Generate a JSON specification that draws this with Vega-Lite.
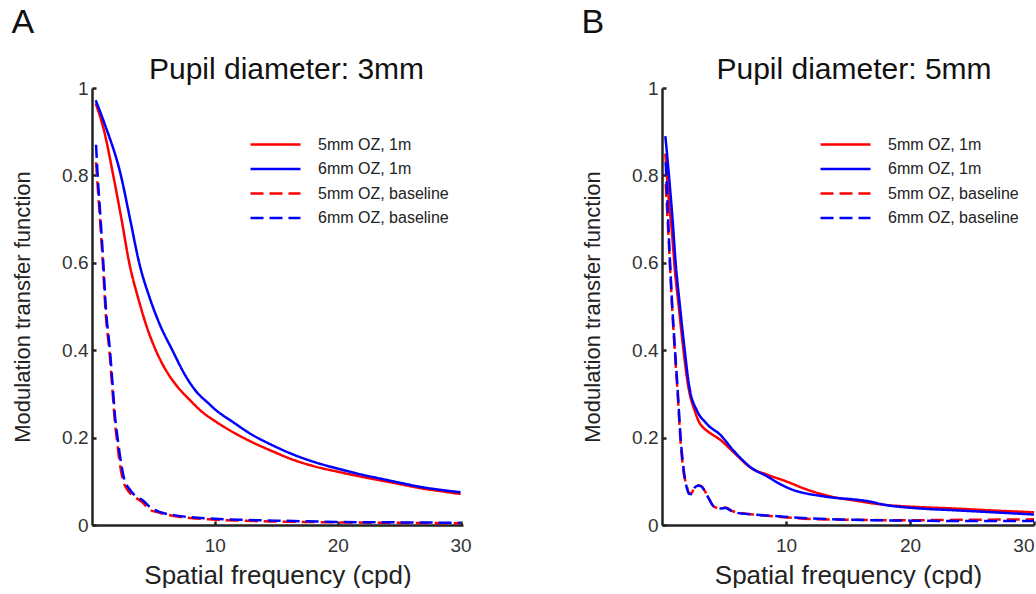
{
  "$schema": "https://vega.github.io/schema/vega-lite/v6.json",
  "background": "white",
  "padding": {"left": 11, "top": 6, "right": 0, "bottom": 0},
  "config": {
    "view": {"stroke": null},
    "font": "Liberation Sans",
    "axis": {
      "grid": false,
      "domainColor": "#222222",
      "domainWidth": 2.5,
      "tickColor": "#222222",
      "tickWidth": 2.5,
      "tickSize": -4,
      "labelFont": "Liberation Sans",
      "labelFontSize": 19,
      "labelColor": "#333333",
      "titleFont": "Liberation Sans",
      "titleFontWeight": "normal",
      "titleColor": "#222222"
    },
    "legend": {
      "orient": "none",
      "legendX": 172,
      "legendY": 45,
      "symbolType": "M-2.5,0H2.5",
      "symbolSize": 400,
      "symbolStrokeWidth": 2.5,
      "labelFont": "Liberation Sans",
      "labelFontSize": 16,
      "labelColor": "#222222",
      "labelOffset": 31,
      "rowPadding": 4.5,
      "padding": 0
    },
    "title": {"font": "Liberation Sans", "fontWeight": "normal", "color": "#111111"}
  },
  "datasets": {
    "a": [
      {"f": 0.3, "m": 0.965, "s": "5mm OZ, 1m"},
      {"f": 1.0, "m": 0.9, "s": "5mm OZ, 1m"},
      {"f": 1.73, "m": 0.8, "s": "5mm OZ, 1m"},
      {"f": 2.4, "m": 0.7, "s": "5mm OZ, 1m"},
      {"f": 3.03, "m": 0.6, "s": "5mm OZ, 1m"},
      {"f": 3.78, "m": 0.517, "s": "5mm OZ, 1m"},
      {"f": 4.5, "m": 0.45, "s": "5mm OZ, 1m"},
      {"f": 5.19, "m": 0.4, "s": "5mm OZ, 1m"},
      {"f": 6.0, "m": 0.355, "s": "5mm OZ, 1m"},
      {"f": 6.8, "m": 0.322, "s": "5mm OZ, 1m"},
      {"f": 8.0, "m": 0.285, "s": "5mm OZ, 1m"},
      {"f": 9.0, "m": 0.258, "s": "5mm OZ, 1m"},
      {"f": 10.0, "m": 0.238, "s": "5mm OZ, 1m"},
      {"f": 11.5, "m": 0.212, "s": "5mm OZ, 1m"},
      {"f": 13.0, "m": 0.19, "s": "5mm OZ, 1m"},
      {"f": 14.5, "m": 0.171, "s": "5mm OZ, 1m"},
      {"f": 16.5, "m": 0.148, "s": "5mm OZ, 1m"},
      {"f": 18.0, "m": 0.135, "s": "5mm OZ, 1m"},
      {"f": 20.0, "m": 0.122, "s": "5mm OZ, 1m"},
      {"f": 22.0, "m": 0.11, "s": "5mm OZ, 1m"},
      {"f": 23.5, "m": 0.102, "s": "5mm OZ, 1m"},
      {"f": 25.0, "m": 0.094, "s": "5mm OZ, 1m"},
      {"f": 27.0, "m": 0.083, "s": "5mm OZ, 1m"},
      {"f": 28.5, "m": 0.077, "s": "5mm OZ, 1m"},
      {"f": 30.0, "m": 0.071, "s": "5mm OZ, 1m"},

      {"f": 0.3, "m": 0.972, "s": "6mm OZ, 1m"},
      {"f": 1.0, "m": 0.92, "s": "6mm OZ, 1m"},
      {"f": 2.35, "m": 0.8, "s": "6mm OZ, 1m"},
      {"f": 3.1, "m": 0.7, "s": "6mm OZ, 1m"},
      {"f": 3.84, "m": 0.6, "s": "6mm OZ, 1m"},
      {"f": 4.73, "m": 0.517, "s": "6mm OZ, 1m"},
      {"f": 5.5, "m": 0.46, "s": "6mm OZ, 1m"},
      {"f": 6.54, "m": 0.4, "s": "6mm OZ, 1m"},
      {"f": 7.6, "m": 0.342, "s": "6mm OZ, 1m"},
      {"f": 8.5, "m": 0.305, "s": "6mm OZ, 1m"},
      {"f": 9.5, "m": 0.278, "s": "6mm OZ, 1m"},
      {"f": 10.0, "m": 0.265, "s": "6mm OZ, 1m"},
      {"f": 11.5, "m": 0.235, "s": "6mm OZ, 1m"},
      {"f": 13.0, "m": 0.207, "s": "6mm OZ, 1m"},
      {"f": 14.5, "m": 0.185, "s": "6mm OZ, 1m"},
      {"f": 16.5, "m": 0.16, "s": "6mm OZ, 1m"},
      {"f": 18.0, "m": 0.145, "s": "6mm OZ, 1m"},
      {"f": 20.0, "m": 0.129, "s": "6mm OZ, 1m"},
      {"f": 22.0, "m": 0.115, "s": "6mm OZ, 1m"},
      {"f": 23.5, "m": 0.106, "s": "6mm OZ, 1m"},
      {"f": 25.0, "m": 0.097, "s": "6mm OZ, 1m"},
      {"f": 27.0, "m": 0.086, "s": "6mm OZ, 1m"},
      {"f": 28.5, "m": 0.08, "s": "6mm OZ, 1m"},
      {"f": 30.0, "m": 0.075, "s": "6mm OZ, 1m"},

      {"f": 0.33, "m": 0.83, "s": "5mm OZ, baseline"},
      {"f": 0.45, "m": 0.78, "s": "5mm OZ, baseline"},
      {"f": 0.7, "m": 0.68, "s": "5mm OZ, baseline"},
      {"f": 0.9, "m": 0.59, "s": "5mm OZ, baseline"},
      {"f": 1.1, "m": 0.49, "s": "5mm OZ, baseline"},
      {"f": 1.44, "m": 0.39, "s": "5mm OZ, baseline"},
      {"f": 1.66, "m": 0.31, "s": "5mm OZ, baseline"},
      {"f": 1.85, "m": 0.24, "s": "5mm OZ, baseline"},
      {"f": 2.05, "m": 0.19, "s": "5mm OZ, baseline"},
      {"f": 2.22, "m": 0.15, "s": "5mm OZ, baseline"},
      {"f": 2.5, "m": 0.105, "s": "5mm OZ, baseline"},
      {"f": 2.9, "m": 0.08, "s": "5mm OZ, baseline"},
      {"f": 3.6, "m": 0.062, "s": "5mm OZ, baseline"},
      {"f": 4.1, "m": 0.052, "s": "5mm OZ, baseline"},
      {"f": 4.7, "m": 0.035, "s": "5mm OZ, baseline"},
      {"f": 5.5, "m": 0.028, "s": "5mm OZ, baseline"},
      {"f": 6.8, "m": 0.02, "s": "5mm OZ, baseline"},
      {"f": 8.0, "m": 0.016, "s": "5mm OZ, baseline"},
      {"f": 9.5, "m": 0.013, "s": "5mm OZ, baseline"},
      {"f": 12.0, "m": 0.01, "s": "5mm OZ, baseline"},
      {"f": 15.0, "m": 0.008, "s": "5mm OZ, baseline"},
      {"f": 20.0, "m": 0.006, "s": "5mm OZ, baseline"},
      {"f": 25.0, "m": 0.005, "s": "5mm OZ, baseline"},
      {"f": 30.0, "m": 0.004, "s": "5mm OZ, baseline"},

      {"f": 0.33, "m": 0.87, "s": "6mm OZ, baseline"},
      {"f": 0.46, "m": 0.8, "s": "6mm OZ, baseline"},
      {"f": 0.7, "m": 0.7, "s": "6mm OZ, baseline"},
      {"f": 0.92, "m": 0.6, "s": "6mm OZ, baseline"},
      {"f": 1.12, "m": 0.5, "s": "6mm OZ, baseline"},
      {"f": 1.46, "m": 0.4, "s": "6mm OZ, baseline"},
      {"f": 1.68, "m": 0.32, "s": "6mm OZ, baseline"},
      {"f": 1.87, "m": 0.25, "s": "6mm OZ, baseline"},
      {"f": 2.08, "m": 0.2, "s": "6mm OZ, baseline"},
      {"f": 2.27, "m": 0.16, "s": "6mm OZ, baseline"},
      {"f": 2.62, "m": 0.105, "s": "6mm OZ, baseline"},
      {"f": 3.03, "m": 0.083, "s": "6mm OZ, baseline"},
      {"f": 3.6, "m": 0.065, "s": "6mm OZ, baseline"},
      {"f": 4.1, "m": 0.057, "s": "6mm OZ, baseline"},
      {"f": 4.78, "m": 0.04, "s": "6mm OZ, baseline"},
      {"f": 5.5, "m": 0.03, "s": "6mm OZ, baseline"},
      {"f": 6.8, "m": 0.022, "s": "6mm OZ, baseline"},
      {"f": 8.0, "m": 0.018, "s": "6mm OZ, baseline"},
      {"f": 9.5, "m": 0.015, "s": "6mm OZ, baseline"},
      {"f": 12.0, "m": 0.012, "s": "6mm OZ, baseline"},
      {"f": 15.0, "m": 0.01, "s": "6mm OZ, baseline"},
      {"f": 20.0, "m": 0.007, "s": "6mm OZ, baseline"},
      {"f": 25.0, "m": 0.006, "s": "6mm OZ, baseline"},
      {"f": 30.0, "m": 0.005, "s": "6mm OZ, baseline"}
    ],
    "b": [
      {"f": 0.27, "m": 0.85, "s": "5mm OZ, 1m"},
      {"f": 0.5, "m": 0.76, "s": "5mm OZ, 1m"},
      {"f": 0.8, "m": 0.67, "s": "5mm OZ, 1m"},
      {"f": 1.05, "m": 0.58, "s": "5mm OZ, 1m"},
      {"f": 1.35, "m": 0.5, "s": "5mm OZ, 1m"},
      {"f": 1.73, "m": 0.4, "s": "5mm OZ, 1m"},
      {"f": 2.1, "m": 0.32, "s": "5mm OZ, 1m"},
      {"f": 2.67, "m": 0.259, "s": "5mm OZ, 1m"},
      {"f": 3.0, "m": 0.235, "s": "5mm OZ, 1m"},
      {"f": 3.4, "m": 0.221, "s": "5mm OZ, 1m"},
      {"f": 4.0, "m": 0.208, "s": "5mm OZ, 1m"},
      {"f": 4.6, "m": 0.197, "s": "5mm OZ, 1m"},
      {"f": 5.9, "m": 0.163, "s": "5mm OZ, 1m"},
      {"f": 7.2, "m": 0.13, "s": "5mm OZ, 1m"},
      {"f": 8.5, "m": 0.115, "s": "5mm OZ, 1m"},
      {"f": 10.0, "m": 0.1, "s": "5mm OZ, 1m"},
      {"f": 11.5, "m": 0.083, "s": "5mm OZ, 1m"},
      {"f": 12.7, "m": 0.072, "s": "5mm OZ, 1m"},
      {"f": 14.0, "m": 0.063, "s": "5mm OZ, 1m"},
      {"f": 15.3, "m": 0.057, "s": "5mm OZ, 1m"},
      {"f": 18.0, "m": 0.046, "s": "5mm OZ, 1m"},
      {"f": 20.7, "m": 0.041, "s": "5mm OZ, 1m"},
      {"f": 23.4, "m": 0.038, "s": "5mm OZ, 1m"},
      {"f": 26.1, "m": 0.034, "s": "5mm OZ, 1m"},
      {"f": 30.0, "m": 0.029, "s": "5mm OZ, 1m"},

      {"f": 0.27, "m": 0.89, "s": "6mm OZ, 1m"},
      {"f": 0.56, "m": 0.8, "s": "6mm OZ, 1m"},
      {"f": 0.85, "m": 0.7, "s": "6mm OZ, 1m"},
      {"f": 1.1, "m": 0.6, "s": "6mm OZ, 1m"},
      {"f": 1.45, "m": 0.5, "s": "6mm OZ, 1m"},
      {"f": 1.83, "m": 0.4, "s": "6mm OZ, 1m"},
      {"f": 2.18, "m": 0.32, "s": "6mm OZ, 1m"},
      {"f": 2.85, "m": 0.26, "s": "6mm OZ, 1m"},
      {"f": 3.5, "m": 0.235, "s": "6mm OZ, 1m"},
      {"f": 3.8, "m": 0.226, "s": "6mm OZ, 1m"},
      {"f": 4.6, "m": 0.209, "s": "6mm OZ, 1m"},
      {"f": 5.9, "m": 0.166, "s": "6mm OZ, 1m"},
      {"f": 7.2, "m": 0.131, "s": "6mm OZ, 1m"},
      {"f": 8.5, "m": 0.111, "s": "6mm OZ, 1m"},
      {"f": 9.5, "m": 0.094, "s": "6mm OZ, 1m"},
      {"f": 10.5, "m": 0.081, "s": "6mm OZ, 1m"},
      {"f": 11.5, "m": 0.073, "s": "6mm OZ, 1m"},
      {"f": 12.7, "m": 0.067, "s": "6mm OZ, 1m"},
      {"f": 14.0, "m": 0.062, "s": "6mm OZ, 1m"},
      {"f": 15.3, "m": 0.059, "s": "6mm OZ, 1m"},
      {"f": 16.5, "m": 0.055, "s": "6mm OZ, 1m"},
      {"f": 18.0, "m": 0.046, "s": "6mm OZ, 1m"},
      {"f": 20.7, "m": 0.038, "s": "6mm OZ, 1m"},
      {"f": 23.4, "m": 0.034, "s": "6mm OZ, 1m"},
      {"f": 26.1, "m": 0.03, "s": "6mm OZ, 1m"},
      {"f": 30.0, "m": 0.024, "s": "6mm OZ, 1m"},

      {"f": 0.3, "m": 0.78, "s": "5mm OZ, baseline"},
      {"f": 0.45, "m": 0.7, "s": "5mm OZ, baseline"},
      {"f": 0.65, "m": 0.59, "s": "5mm OZ, baseline"},
      {"f": 0.83, "m": 0.49, "s": "5mm OZ, baseline"},
      {"f": 1.05, "m": 0.39, "s": "5mm OZ, baseline"},
      {"f": 1.24, "m": 0.31, "s": "5mm OZ, baseline"},
      {"f": 1.5, "m": 0.19, "s": "5mm OZ, baseline"},
      {"f": 1.77, "m": 0.115, "s": "5mm OZ, baseline"},
      {"f": 1.96, "m": 0.094, "s": "5mm OZ, baseline"},
      {"f": 2.18, "m": 0.073, "s": "5mm OZ, baseline"},
      {"f": 2.4, "m": 0.073, "s": "5mm OZ, baseline"},
      {"f": 2.58, "m": 0.085, "s": "5mm OZ, baseline"},
      {"f": 2.9, "m": 0.091, "s": "5mm OZ, baseline"},
      {"f": 3.12, "m": 0.09, "s": "5mm OZ, baseline"},
      {"f": 3.65, "m": 0.068, "s": "5mm OZ, baseline"},
      {"f": 4.19, "m": 0.042, "s": "5mm OZ, baseline"},
      {"f": 4.73, "m": 0.038, "s": "5mm OZ, baseline"},
      {"f": 5.13, "m": 0.04, "s": "5mm OZ, baseline"},
      {"f": 5.67, "m": 0.032, "s": "5mm OZ, baseline"},
      {"f": 6.5, "m": 0.027, "s": "5mm OZ, baseline"},
      {"f": 7.4, "m": 0.024, "s": "5mm OZ, baseline"},
      {"f": 9.8, "m": 0.018, "s": "5mm OZ, baseline"},
      {"f": 12.0, "m": 0.014, "s": "5mm OZ, baseline"},
      {"f": 15.0, "m": 0.012, "s": "5mm OZ, baseline"},
      {"f": 20.0, "m": 0.011, "s": "5mm OZ, baseline"},
      {"f": 25.0, "m": 0.012, "s": "5mm OZ, baseline"},
      {"f": 30.0, "m": 0.013, "s": "5mm OZ, baseline"},

      {"f": 0.3, "m": 0.83, "s": "6mm OZ, baseline"},
      {"f": 0.45, "m": 0.73, "s": "6mm OZ, baseline"},
      {"f": 0.65, "m": 0.6, "s": "6mm OZ, baseline"},
      {"f": 0.83, "m": 0.5, "s": "6mm OZ, baseline"},
      {"f": 1.05, "m": 0.4, "s": "6mm OZ, baseline"},
      {"f": 1.24, "m": 0.32, "s": "6mm OZ, baseline"},
      {"f": 1.5, "m": 0.2, "s": "6mm OZ, baseline"},
      {"f": 1.77, "m": 0.122, "s": "6mm OZ, baseline"},
      {"f": 1.96, "m": 0.09, "s": "6mm OZ, baseline"},
      {"f": 2.18, "m": 0.071, "s": "6mm OZ, baseline"},
      {"f": 2.4, "m": 0.071, "s": "6mm OZ, baseline"},
      {"f": 2.58, "m": 0.084, "s": "6mm OZ, baseline"},
      {"f": 2.9, "m": 0.09, "s": "6mm OZ, baseline"},
      {"f": 3.12, "m": 0.089, "s": "6mm OZ, baseline"},
      {"f": 3.65, "m": 0.067, "s": "6mm OZ, baseline"},
      {"f": 4.19, "m": 0.042, "s": "6mm OZ, baseline"},
      {"f": 4.73, "m": 0.038, "s": "6mm OZ, baseline"},
      {"f": 5.13, "m": 0.039, "s": "6mm OZ, baseline"},
      {"f": 5.67, "m": 0.031, "s": "6mm OZ, baseline"},
      {"f": 6.5, "m": 0.026, "s": "6mm OZ, baseline"},
      {"f": 7.4, "m": 0.024, "s": "6mm OZ, baseline"},
      {"f": 9.8, "m": 0.019, "s": "6mm OZ, baseline"},
      {"f": 12.0, "m": 0.015, "s": "6mm OZ, baseline"},
      {"f": 15.0, "m": 0.012, "s": "6mm OZ, baseline"},
      {"f": 20.0, "m": 0.01, "s": "6mm OZ, baseline"},
      {"f": 25.0, "m": 0.009, "s": "6mm OZ, baseline"},
      {"f": 30.0, "m": 0.009, "s": "6mm OZ, baseline"}
    ]
  },
  "hconcat": [
    {
      "title": {"text": "A", "anchor": "start", "frame": "bounds", "fontSize": 34, "offset": 15},
      "vconcat": [
        {
          "title": {"text": "Pupil diameter: 3mm", "fontSize": 30, "offset": -6, "dx": 9},
          "data": {"name": "a"},
          "width": 371,
          "height": 437,
          "mark": {"type": "line", "strokeWidth": 2.5, "interpolate": "monotone", "clip": true},
          "encoding": {
            "x": {"field": "f", "type": "quantitative", "scale": {"domain": [0, 30.2], "nice": false},
              "axis": {"values": [10, 20, 30], "title": "Spatial frequency (cpd)", "titleFontSize": 26, "titlePadding": 7, "labelPadding": 15}},
            "y": {"field": "m", "type": "quantitative", "scale": {"domain": [0, 1], "nice": false},
              "axis": {"values": [0, 0.2, 0.4, 0.6, 0.8, 1], "format": "~g", "title": "Modulation transfer function", "titleFontSize": 22, "titlePadding": 27, "labelPadding": 8}},
            "color": {"field": "s", "type": "nominal",
              "scale": {"domain": ["5mm OZ, 1m", "6mm OZ, 1m", "5mm OZ, baseline", "6mm OZ, baseline"], "range": ["#ff0000", "#0000ff", "#ff0000", "#0000ff"]},
              "legend": {"title": null}},
            "strokeDash": {"field": "s", "type": "nominal",
              "scale": {"domain": ["5mm OZ, 1m", "6mm OZ, 1m", "5mm OZ, baseline", "6mm OZ, baseline"], "range": [[1, 0], [1, 0], [13, 6], [13, 6]]},
              "legend": {"title": null}}
          }
        }
      ]
    },
    {
      "title": {"text": "B", "anchor": "start", "frame": "bounds", "fontSize": 34, "offset": 15},
      "vconcat": [
        {
          "title": {"text": "Pupil diameter: 5mm", "fontSize": 30, "offset": -6, "dx": 6},
          "data": {"name": "b"},
          "width": 372,
          "height": 437,
          "mark": {"type": "line", "strokeWidth": 2.5, "interpolate": "monotone", "clip": true},
          "encoding": {
            "x": {"field": "f", "type": "quantitative", "scale": {"domain": [0, 30], "nice": false},
              "axis": {"values": [10, 20, 30], "title": "Spatial frequency (cpd)", "titleFontSize": 26, "titlePadding": 7, "labelPadding": 15}},
            "y": {"field": "m", "type": "quantitative", "scale": {"domain": [0, 1], "nice": false},
              "axis": {"values": [0, 0.2, 0.4, 0.6, 0.8, 1], "format": "~g", "title": "Modulation transfer function", "titleFontSize": 22, "titlePadding": 27, "labelPadding": 8}},
            "color": {"field": "s", "type": "nominal",
              "scale": {"domain": ["5mm OZ, 1m", "6mm OZ, 1m", "5mm OZ, baseline", "6mm OZ, baseline"], "range": ["#ff0000", "#0000ff", "#ff0000", "#0000ff"]},
              "legend": {"title": null}},
            "strokeDash": {"field": "s", "type": "nominal",
              "scale": {"domain": ["5mm OZ, 1m", "6mm OZ, 1m", "5mm OZ, baseline", "6mm OZ, baseline"], "range": [[1, 0], [1, 0], [13, 6], [13, 6]]},
              "legend": {"title": null}}
          }
        }
      ]
    }
  ],
  "spacing": 109,
  "resolve": {
    "scale": {"color": "independent", "strokeDash": "independent"},
    "legend": {"color": "independent", "strokeDash": "independent"}
  }
}
